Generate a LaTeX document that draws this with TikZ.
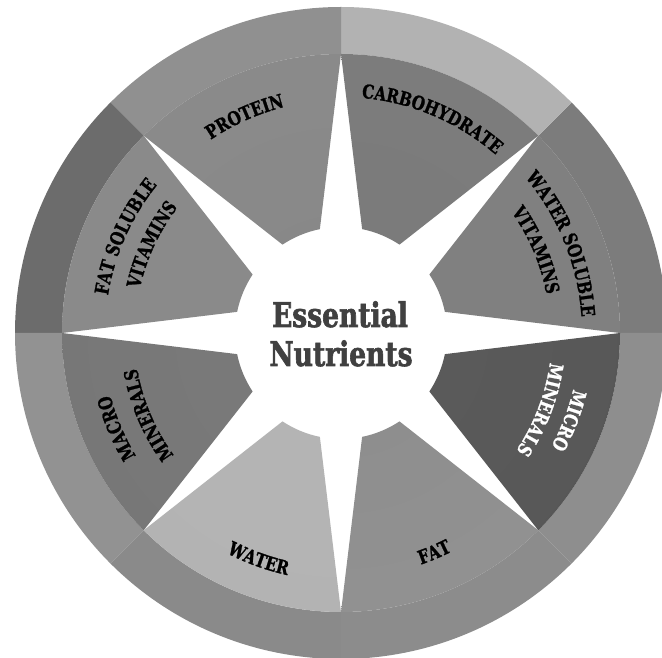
\documentclass[tikz,border=0pt]{standalone}
\usepackage{fontspec}
\usetikzlibrary{decorations.text}
\newfontfamily\slab[FakeStretch=0.8,BoldFeatures={FakeBold=1.2}]{DejaVu Serif}
\newfontfamily\slabT[FakeStretch=0.78,BoldFeatures={FakeBold=1.8}]{DejaVu Serif}
\newcommand\lab{\slab\bfseries\fontsize{19}{19}\selectfont}
% ring colours
\definecolor{r0}{HTML}{7C7C7C}
\definecolor{r1}{HTML}{B2B2B2}
\definecolor{r2}{HTML}{909090}
\definecolor{r3}{HTML}{6C6C6C}
\definecolor{r4}{HTML}{929292}
\definecolor{r5}{HTML}{8A8A8A}
\definecolor{r6}{HTML}{8C8C8C}
\definecolor{r7}{HTML}{8E8E8E}
\definecolor{titlegray}{HTML}{404040}
% wedge shadings (radius 50bp = ring inner edge)
\pgfdeclareradialshading{sh0}{\pgfpoint{0bp}{0bp}}{color(0bp)=(black!50); color(36bp)=(black!50); color(39bp)=(black!40); color(45bp)=(black!40); color(47.5bp)=(black!53); color(50bp)=(black!53)}
\pgfdeclareradialshading{sh1}{\pgfpoint{0bp}{0bp}}{color(0bp)=(black!52); color(40bp)=(black!51); color(50bp)=(black!50)}
\pgfdeclareradialshading{sh2}{\pgfpoint{0bp}{0bp}}{color(0bp)=(black!47); color(40bp)=(black!45); color(50bp)=(black!44)}
\pgfdeclareradialshading{sh3}{\pgfpoint{0bp}{0bp}}{color(0bp)=(black!46); color(36bp)=(black!46); color(39bp)=(black!39); color(45.5bp)=(black!39); color(47.5bp)=(black!55); color(50bp)=(black!57)}
\pgfdeclareradialshading{sh4}{\pgfpoint{0bp}{0bp}}{color(0bp)=(black!52); color(40bp)=(black!54); color(45bp)=(black!56); color(50bp)=(black!62)}
\pgfdeclareradialshading{sh5}{\pgfpoint{0bp}{0bp}}{color(0bp)=(black!29); color(36bp)=(black!30); color(40bp)=(black!37); color(46bp)=(black!41); color(50bp)=(black!47)}
\pgfdeclareradialshading{sh6}{\pgfpoint{0bp}{0bp}}{color(0bp)=(black!45); color(38bp)=(black!42); color(43bp)=(black!46); color(48bp)=(black!58); color(50bp)=(black!54)}
\pgfdeclareradialshading{sh7}{\pgfpoint{0bp}{0bp}}{color(0bp)=(black!64); color(44bp)=(black!67); color(50bp)=(black!72)}
\newcommand\labcw[4]{%
  \path[decorate,decoration={text along path,text align=center,text color=#3,text={|\lab|#4}}]
    (#1+40:#2) arc[start angle=#1+40,end angle=#1-40,radius=#2];}
\newcommand\labccw[4]{%
  \path[decorate,decoration={text along path,text align=center,text color=#3,text={|\lab|#4}}]
    (#1-40:#2) arc[start angle=#1-40,end angle=#1+40,radius=#2];}
\begin{document}
\begin{tikzpicture}[x=1pt,y=1pt]
\useasboundingbox (0,0) rectangle (662,657);
\fill[white] (0,0) rectangle (662,657);
\clip (0,0) rectangle (662,657);
\begin{scope}[shift={(341,324)}]
  \coordinate (C) at (0,0);
  % outer ring
  \foreach \a/\c in {0/r0,45/r1,90/r2,135/r3,180/r4,225/r5,270/r6,315/r7}{
    \fill[\c] (\a:326) arc[start angle=\a,end angle=\a+45,radius=326]
      -- (\a+45:279) arc[start angle=\a+45,end angle=\a,radius=279] -- cycle;
  }
  % wedges
  \foreach \a/\s in {0/sh0,45/sh1,90/sh2,135/sh3,180/sh4,225/sh5,270/sh6,315/sh7}{
    \begin{scope}
      \clip (\a:279) arc[start angle=\a,end angle=\a+45,radius=279]
        -- (\a+33.5:106) arc[start angle=\a+33.5,end angle=\a+11.5,radius=106] -- cycle;
      \shade[shading=\s] (C) circle (279);
    \end{scope}
  }
  % labels
  \labcw{114}{233}{black}{PROTEIN}
  \labcw{67}{236}{black}{CARBOHYDRATE}
  \labcw{22}{241}{black}{WATER SOLUBLE}
  \labcw{23}{209}{black}{VITAMINS}
  \labcw{-21}{239}{white}{MICRO}
  \labcw{-21}{211}{white}{MINERALS}
  \labccw{293}{245}{black}{FAT}
  \labccw{250}{248}{black}{WATER}
  \labcw{203}{239}{black}{MACRO}
  \labcw{203}{207}{black}{MINERALS}
  \labcw{156}{236}{black}{FAT SOLUBLE}
  \labcw{155}{206}{black}{VITAMINS}
\end{scope}
\node[anchor=base,inner sep=0pt,text=titlegray,font=\slabT\bfseries\fontsize{34}{34}\selectfont] (t1) at (340,330) {Essential};
\node[anchor=base,inner sep=0pt,text=titlegray,font=\slabT\bfseries\fontsize{34}{34}\selectfont] (t2) at (341,291) {Nutrients};
\end{tikzpicture}
\end{document}
